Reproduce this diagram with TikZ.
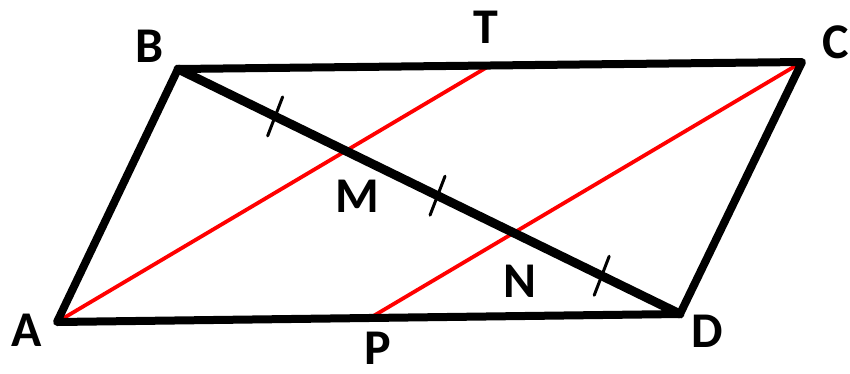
\documentclass[tikz,border=0pt]{standalone}
\usepackage{fontspec}
\setmainfont{Carlito}
\usetikzlibrary{calc}
\begin{document}
\begin{tikzpicture}[x=1pt,y=-1pt,
  edge/.style={line width=8pt,line join=round,line cap=round},
  diag/.style={line width=9pt,line cap=round},
  redline/.style={red,line width=3.8pt},
  tick/.style={line width=3pt,line cap=round},
  lbl/.style={font=\bfseries\fontsize{50}{50}\selectfont,inner sep=0pt}]
\useasboundingbox (0,0) rectangle (850,373);
\coordinate (A) at (57,322);
\coordinate (B) at (178,69);
\coordinate (C) at (802,62);
\coordinate (D) at (680,314);
\coordinate (T) at (489,66);
\coordinate (P) at (370,318);
\coordinate (M) at (intersection of A--T and B--D);
\coordinate (N) at (intersection of C--P and B--D);
\draw[redline] (A) -- (T);
\draw[redline] (P) -- (C);
\draw[edge] (A) -- (B) -- (C) -- (D) -- cycle;
\draw[diag] (B) -- (D);
\path (B) -- (D) coordinate[pos=0.1935] (t1) coordinate[pos=0.517] (t2) coordinate[pos=0.844] (t3);
\foreach \t in {t1,t2,t3}{
  \draw[tick] ($(\t)+(-7.5,19.5)$) -- ($(\t)+(7.5,-19.5)$);
}
\node[lbl] (lB) at (150,46) {B};
\node[lbl] (lT) at (486,27) {T};
\node[lbl] (lC) at (836,42) {C};
\node[lbl] (lA) at (27,330) {A};
\node[lbl] (lP) at (378,348) {P};
\node[lbl] (lD) at (707,331) {D};
\node[lbl] (lM) at (357,196) {M};
\node[lbl] (lN) at (520,281) {N};
\end{tikzpicture}
\end{document}
